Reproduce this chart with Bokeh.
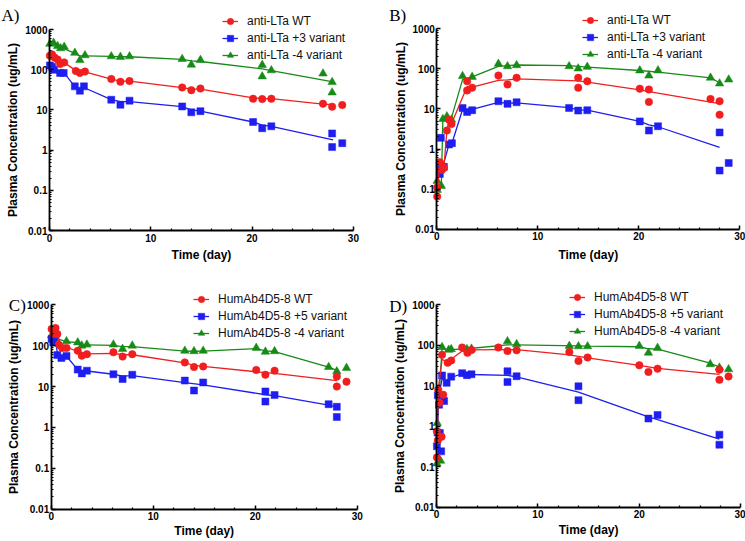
import math
from bokeh.plotting import figure
from bokeh.models import Range1d, FixedTicker, Legend, LegendItem, Label
from bokeh.layouts import column, row
from bokeh.embed import file_html
from bokeh.resources import INLINE

# ---------------- data ----------------
x_ticks = [0, 10, 20, 30]
x_minor_ticks = [2, 4, 6, 8, 12, 14, 16, 18, 22, 24, 26, 28]
y_ticks = [0.01, 0.1, 1, 10, 100, 1000]
y_tick_labels = ["0.01", "0.1", "1", "10", "100", "1000"]
x_label = "Time (day)"
y_label = "Plasma Concentration (ug/mL)"

panel_labels = ["A)", "B)", "C)", "D)"]
legend_LTa = ["anti-LTa WT", "anti-LTa +3 variant", "anti-LTa -4 variant"]
legend_Hum = ["HumAb4D5-8 WT", "HumAb4D5-8 +5 variant", "HumAb4D5-8 -4 variant"]

# Panel A
A_wt_t = [0.04, 0.25, 0.5, 0.8, 1.05, 1.45, 2.6, 3.0, 3.5, 6.1, 7.0, 7.9, 13.1, 14.0, 14.9, 20.1, 21.0, 21.9, 27.0, 27.9, 28.9]
A_wt_c = [223, 240, 200, 180, 138, 152, 93, 83, 90, 59, 50, 52, 36, 31, 34, 19, 18.6, 19, 14.2, 12, 13.2]
A_wt_fit_t = [0.04, 0.5, 1.0, 1.5, 2.6, 3.0, 3.5, 6.1, 7.0, 7.9, 13.1, 14.0, 14.9, 20.1, 21.0, 21.9, 27.0, 28.0]
A_wt_fit_c = [225, 200, 165, 148, 95, 88, 88, 58, 52, 52, 36, 33, 33, 20, 19, 19, 14, 13.5]

A_p3_t = [0.04, 0.25, 0.45, 1.05, 1.4, 2.5, 3.0, 3.4, 6.1, 7.0, 7.9, 13.1, 14.0, 14.9, 20.1, 21.0, 21.9, 27.9, 27.9, 28.9]
A_p3_c = [128, 118, 100, 83, 83, 38.5, 30, 38.5, 17.9, 13.4, 17, 12.2, 8.7, 9.3, 5.0, 3.5, 3.9, 2.6, 1.19, 1.49]
A_p3_fit_t = [0.04, 0.5, 1.0, 1.5, 2.5, 3.0, 3.5, 6.1, 7.0, 7.9, 13.1, 14.0, 14.9, 20.1, 21.0, 21.9, 28.0]
A_p3_fit_c = [122, 100, 85, 80, 38, 33, 35, 18, 16, 16, 12, 10, 9.3, 5, 4.2, 3.9, 1.8]

A_m4_t = [0.04, 0.4, 0.8, 1.1, 1.45, 2.5, 3.0, 3.5, 6.1, 7.0, 7.9, 13.1, 14.0, 14.9, 21.0, 21.0, 21.9, 27.0, 27.9, 27.9]
A_m4_c = [440, 465, 385, 340, 370, 262, 173, 228, 214, 207, 214, 184, 133, 174, 131, 68, 96, 80, 49, 27]
A_m4_fit_t = [0.04, 0.5, 1.0, 1.5, 2.5, 3.0, 3.5, 6.1, 7.0, 7.9, 13.1, 14.0, 14.9, 21.0, 21.9, 28.0]
A_m4_fit_c = [440, 410, 345, 330, 255, 220, 220, 215, 210, 210, 180, 165, 160, 105, 95, 50]

# Panel B
B_wt_t = [0.04, 0.04, 0.3, 0.5, 0.7, 1.0, 1.2, 1.45, 3.0, 3.0, 3.5, 6.1, 7.0, 7.9, 14.0, 14.0, 14.9, 20.1, 21.0, 21.0, 27.1, 28.0, 28.0]
B_wt_c = [0.065, 0.11, 0.47, 0.3, 0.34, 2.9, 5.4, 4.2, 49, 29, 34, 68, 41, 60, 60, 34, 49, 32, 30.5, 15, 17.8, 15.6, 7.2]
B_wt_fit_t = [0.04, 0.3, 0.7, 1.0, 1.2, 1.45, 3.0, 3.5, 6.1, 7.0, 7.9, 14.0, 14.9, 20.1, 21.0, 28.0]
B_wt_fit_c = [0.085, 0.45, 0.34, 2.9, 5.0, 4.3, 36, 35, 52, 53, 56, 50, 47, 30, 27, 13.6]

B_p3_t = [0.3, 0.3, 0.4, 0.7, 1.2, 1.5, 2.55, 3.0, 3.5, 6.1, 7.0, 7.9, 13.1, 14.0, 14.9, 20.1, 21.0, 21.9, 28.0, 28.0, 28.9]
B_p3_c = [0.39, 0.24, 1.9, 0.36, 1.3, 1.4, 10.6, 8.4, 9.3, 15.6, 13.4, 14.7, 10.6, 9.1, 9.3, 4.9, 2.9, 3.7, 2.6, 0.29, 0.45]
B_p3_fit_t = [0.04, 0.35, 0.7, 1.2, 1.5, 2.55, 3.0, 3.5, 6.1, 7.0, 7.9, 13.1, 14.0, 14.9, 20.1, 21.0, 21.9, 28.0]
B_p3_fit_c = [0.25, 0.38, 0.45, 1.3, 1.4, 9.7, 8.8, 9.7, 14.5, 14, 14.2, 10.8, 9.5, 9.3, 4.9, 4.0, 3.6, 1.1]

B_m4_t = [0.04, 0.04, 0.45, 0.6, 1.0, 1.45, 2.55, 3.5, 6.1, 7.0, 7.9, 13.1, 14.0, 14.9, 20.1, 21.0, 21.9, 27.1, 28.0, 28.9]
B_m4_c = [0.16, 0.095, 0.12, 5.6, 6.5, 5.4, 66, 63, 133, 116, 123, 116, 102, 112, 91, 68, 91, 60, 43, 54]
B_m4_fit_t = [0.04, 0.45, 0.6, 1.45, 2.55, 3.5, 6.1, 7.9, 13.1, 14.9, 20.1, 21.9, 27.1, 28.0]
B_m4_fit_c = [0.1, 0.13, 5.5, 6, 54, 63, 116, 125, 120, 110, 91, 83, 60, 45]

# Panel C
C_wt_t = [0.04, 0.26, 0.42, 0.6, 0.75, 1.07, 1.5, 2.6, 3.0, 3.5, 6.1, 7.0, 7.95, 13.1, 14.0, 14.9, 20.1, 21.0, 21.9, 28.0, 28.0, 28.95]
C_wt_c = [256, 193, 270, 193, 106, 88, 88, 75, 57, 62, 69, 54, 62, 39, 30, 31, 25.4, 19.5, 24.5, 17.5, 10, 13.2]
C_wt_fit_t = [0.04, 0.42, 0.75, 1.07, 1.5, 2.6, 3.0, 3.5, 6.1, 7.0, 7.95, 13.1, 14.0, 14.9, 20.1, 21.9, 28.0]
C_wt_fit_c = [240, 250, 130, 100, 92, 72, 65, 63, 65, 60, 60, 38, 33, 31, 23, 21, 14]

C_p5_t = [0.04, 0.2, 0.42, 0.6, 1.0, 1.5, 2.6, 3.0, 3.5, 6.1, 7.0, 7.95, 13.1, 14.0, 14.9, 21.0, 21.0, 21.9, 27.2, 28.0, 28.0]
C_p5_c = [145, 120, 175, 59, 50, 56, 26, 21, 24.5, 20, 15.3, 19.5, 14, 8, 12.6, 7.6, 4.3, 6.2, 3.7, 3.2, 1.8]
C_p5_fit_t = [0.04, 0.42, 0.6, 1.0, 1.5, 2.6, 3.0, 3.5, 6.1, 7.0, 7.95, 13.1, 14.9, 21.0, 21.9, 27.2, 28.0]
C_p5_fit_c = [135, 150, 65, 52, 55, 26, 23, 24, 20, 18, 18.5, 12.5, 11, 6.3, 6, 3.5, 3.2]

C_m4_t = [0.04, 0.45, 1.5, 2.6, 3.0, 3.5, 6.1, 7.0, 7.95, 13.1, 14.0, 14.9, 20.1, 21.0, 21.9, 27.2, 28.0, 28.95]
C_m4_c = [180, 150, 128, 120, 100, 106, 106, 83, 100, 75, 73, 75, 88, 71, 73, 30, 23.5, 28.5]
C_m4_fit_t = [0.04, 0.45, 1.5, 2.6, 3.0, 3.5, 6.1, 7.0, 7.95, 13.1, 14.0, 14.9, 20.1, 21.0, 21.9, 27.2, 28.0]
C_m4_fit_c = [180, 150, 125, 118, 105, 105, 102, 95, 95, 74, 73, 74, 85, 75, 72, 30, 25]

# Panel D
D_wt_t = [0.04, 0.04, 0.13, 0.17, 0.3, 0.5, 0.55, 0.66, 1.1, 1.45, 2.53, 3.05, 3.45, 6.1, 7.0, 7.9, 13.1, 14.0, 14.9, 20.0, 20.9, 21.8, 27.9, 27.9, 28.8]
D_wt_c = [0.17, 0.75, 0.45, 8.0, 3.8, 0.55, 58, 6.0, 37, 42, 88, 65, 76, 88, 72, 75, 68, 41, 50, 32, 22, 26.5, 25, 14, 17]
D_wt_fit_t = [0.04, 0.17, 0.55, 1.1, 1.45, 2.53, 3.45, 6.1, 7.9, 13.1, 14.9, 20.0, 21.8, 27.9]
D_wt_fit_c = [0.17, 8, 45, 38, 45, 72, 77, 78, 78, 58, 49, 32, 27, 19]

D_p5_t = [0.04, 0.1, 0.13, 0.25, 0.33, 0.46, 0.55, 0.75, 1.0, 1.45, 2.53, 3.0, 3.45, 7.0, 7.0, 7.9, 14.0, 14.0, 20.9, 21.8, 27.9, 27.9]
D_p5_c = [0.32, 0.7, 5.8, 3.4, 0.68, 0.24, 18, 4.2, 11.8, 16.8, 20.5, 18.3, 19.2, 22.8, 12.4, 17.2, 9.7, 4.4, 1.55, 1.9, 0.62, 0.35]
D_p5_fit_t = [0.04, 0.2, 0.55, 1.0, 1.45, 2.53, 3.45, 7.0, 7.9, 14.0, 20.9, 21.8, 27.9]
D_p5_fit_c = [0.3, 5, 15, 12, 16, 20, 19, 18, 16.5, 7, 1.7, 1.45, 0.48]

D_m4_t = [0.04, 0.07, 0.4, 0.55, 1.2, 1.45, 3.0, 3.45, 7.0, 7.9, 13.1, 14.0, 14.9, 20.0, 20.9, 21.8, 27.0, 27.9, 28.8]
D_m4_c = [0.12, 1.2, 0.14, 90, 77, 80, 80, 82, 125, 106, 96, 94, 94, 96, 65, 86, 34, 28, 25.5]
D_m4_fit_t = [0.04, 0.07, 0.55, 1.2, 1.45, 3.0, 7.0, 7.9, 14.0, 14.9, 20.0, 20.9, 21.8, 27.0, 27.9]
D_m4_fit_c = [0.12, 1.1, 85, 72, 78, 82, 102, 102, 97, 95, 92, 82, 80, 36, 29]

# ---------------- styling / layout ----------------
RED, BLUE, GREEN = "#f01e1e", "#1e1ef0", "#178a17"
SANS = "Liberation Sans"
SERIF = "Liberation Serif"

W1, W2 = 380, 365
H1, H2 = 270, 271


def make_panel(width, height, x0_px, px_unit, y1000_px, y001_px, series, order,
               leg_xy, ylab_x, xlab_y, plabel, plabel_xy):
    # whole figure is the frame; axes sit at data x=0 and y=0.01
    x_start = -x0_px / px_unit
    x_end = (width - x0_px) / px_unit
    dec = (y001_px - y1000_px) / 5.0
    log_top = 3 + y1000_px / dec
    log_bot = -2 - (height - y001_px) / dec
    p = figure(width=width, height=height, x_range=Range1d(x_start, x_end),
               y_range=Range1d(10 ** log_bot, 10 ** log_top), y_axis_type="log",
               output_backend="svg", toolbar_location=None, title=None,
               min_border_left=0, min_border_right=0,
               min_border_top=0, min_border_bottom=0)
    p.outline_line_color = None
    p.xgrid.visible = False
    p.ygrid.visible = False
    p.background_fill_color = "white"
    p.border_fill_color = "white"

    p.xaxis.ticker = FixedTicker(ticks=x_ticks, minor_ticks=x_minor_ticks)
    y_minor = [k * d for d in y_ticks[:-1] for k in range(2, 10)]
    p.yaxis.ticker = FixedTicker(ticks=y_ticks, minor_ticks=y_minor)
    p.yaxis.major_label_overrides = dict(zip(y_ticks, y_tick_labels))
    p.xaxis.bounds = (x_ticks[0], x_ticks[-1])
    p.yaxis.bounds = (y_ticks[0], y_ticks[-1])
    p.yaxis.fixed_location = x_ticks[0]
    p.xaxis.fixed_location = y_ticks[0]
    for ax in (p.xaxis[0], p.yaxis[0]):
        ax.axis_line_width = 1.8
        ax.axis_line_color = "black"
        ax.major_tick_in = 4
        ax.major_tick_out = 0
        ax.minor_tick_in = 2
        ax.minor_tick_out = 0
        ax.major_tick_line_width = 1.5
        ax.minor_tick_line_width = 1.2
        ax.major_tick_line_color = "black"
        ax.minor_tick_line_color = "black"
        ax.major_label_text_font = SANS
        ax.major_label_text_font_style = "bold"
        ax.major_label_text_font_size = "10px"
        ax.major_label_text_color = "black"
    p.xaxis.major_label_standoff = 3
    p.yaxis.major_label_standoff = 2

    items = {}
    for (t, c, ft, fc, color, marker, size), lab in series:
        lr = p.line(ft, fc, line_color=color, line_width=1.3)
        sr = p.scatter(t, c, marker=marker, size=size, fill_color=color,
                       line_color=color, line_width=0.5)
        items[lab] = LegendItem(label=lab, renderers=[lr, sr])

    leg = Legend(items=[items[k] for k in order], location=leg_xy, orientation="vertical",
                 glyph_width=16, glyph_height=16, label_height=16,
                 spacing=1, padding=0, margin=0, label_standoff=9,
                 border_line_color=None, background_fill_alpha=0,
                 label_text_font=SANS, label_text_font_size="12px",
                 label_text_color="#111111")
    p.add_layout(leg)

    axis_font = dict(text_font=SANS, text_font_style="bold", text_font_size="12px",
                     text_color="black", text_align="center", text_baseline="middle")
    # y axis title, centred on the axis (log midpoint of 0.01..1000)
    p.add_layout(Label(x=ylab_x, y=math.sqrt(y_ticks[0] * y_ticks[-1]),
                       x_units="screen", y_units="data", angle=math.pi / 2,
                       text=y_label, **axis_font))
    # x axis title, centred on the axis
    p.add_layout(Label(x=(x_ticks[0] + x_ticks[-1]) / 2, y=xlab_y,
                       x_units="data", y_units="screen", text=x_label, **axis_font))
    # panel letter
    p.add_layout(Label(x=plabel_xy[0], y=plabel_xy[1], x_units="screen", y_units="screen",
                       text=plabel, text_font=SERIF, text_font_size="17px",
                       text_baseline="alphabetic", text_align="left", text_color="black"))
    return p


pA = make_panel(W1, H1, 49, 10.13, 29, 230,
                [((A_m4_t, A_m4_c, A_m4_fit_t, A_m4_fit_c, GREEN, "triangle", 8.5), legend_LTa[2]),
                 ((A_p3_t, A_p3_c, A_p3_fit_t, A_p3_fit_c, BLUE, "square", 7), legend_LTa[1]),
                 ((A_wt_t, A_wt_c, A_wt_fit_t, A_wt_fit_c, RED, "circle", 7.5), legend_LTa[0])],
                legend_LTa, (222, 207), 12.5, 270 - 254.5, panel_labels[0], (1, 270 - 14.5))
pB = make_panel(W2, H1, 56.3, 10.1, 28.3, 228.7,
                [((B_m4_t, B_m4_c, B_m4_fit_t, B_m4_fit_c, GREEN, "triangle", 8.5), legend_LTa[2]),
                 ((B_p3_t, B_p3_c, B_p3_fit_t, B_p3_fit_c, BLUE, "square", 7), legend_LTa[1]),
                 ((B_wt_t, B_wt_c, B_wt_fit_t, B_wt_fit_c, RED, "circle", 7.5), legend_LTa[0])],
                legend_LTa, (202, 208.5), 20.3, 270 - 254.3, panel_labels[1], (8.7, 270 - 15))
pC = make_panel(W1, H2, 50.7, 10.2, 34.3, 238.7,
                [((C_m4_t, C_m4_c, C_m4_fit_t, C_m4_fit_c, GREEN, "triangle", 8.5), legend_Hum[2]),
                 ((C_p5_t, C_p5_c, C_p5_fit_t, C_p5_fit_c, BLUE, "square", 7), legend_Hum[1]),
                 ((C_wt_t, C_wt_c, C_wt_fit_t, C_wt_fit_c, RED, "circle", 7.5), legend_Hum[0])],
                legend_Hum, (193, 200.5), 13.3, 271 - 260.8, panel_labels[2], (8.3, 271 - 35))
pD = make_panel(W2, H2, 56, 10.14, 34.3, 236.7,
                [((D_m4_t, D_m4_c, D_m4_fit_t, D_m4_fit_c, GREEN, "triangle", 8.5), legend_Hum[2]),
                 ((D_p5_t, D_p5_c, D_p5_fit_t, D_p5_fit_c, BLUE, "square", 7), legend_Hum[1]),
                 ((D_wt_t, D_wt_c, D_wt_fit_t, D_wt_fit_c, RED, "circle", 7.5), legend_Hum[0])],
                legend_Hum, (189, 202), 19, 271 - 259.2, panel_labels[3], (8.7, 271 - 36))

layout = column(row(pA, pB), row(pC, pD))
open("out.html", "w").write(file_html(layout, INLINE))
